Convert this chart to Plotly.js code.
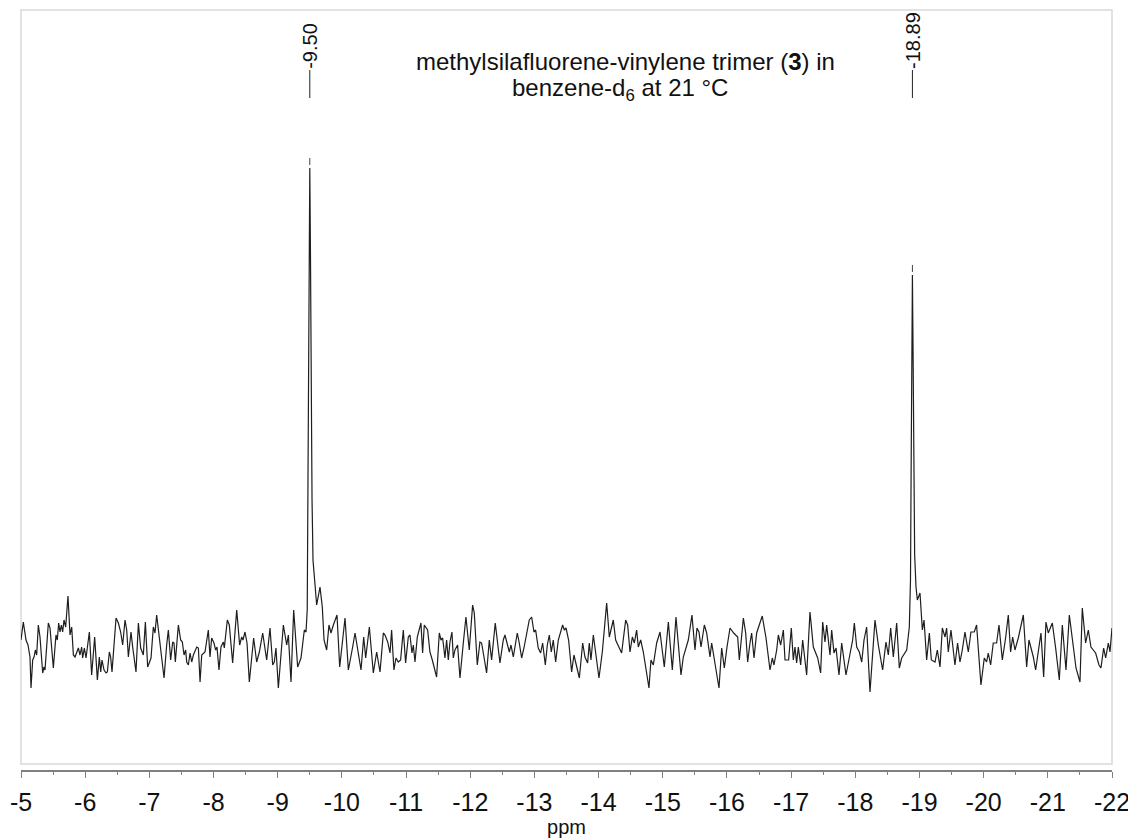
<!DOCTYPE html>
<html>
<head>
<meta charset="utf-8">
<script src="https://cdn.plot.ly/plotly-3.0.1.min.js"></script>
<style>html,body{margin:0;padding:0;background:#fff;}#chart{width:1128px;height:838px;}</style>
</head>
<body>
<div id="chart"></div>
<script>
// chemical shift (ppm) of the spectrum points
const ppm = [
-5.000,-5.036,-5.078,-5.109,-5.140,-5.156,-5.182,-5.203,-5.223,-5.244,-5.270,-5.296,-5.338,-5.358,-5.374,-5.426,-5.452,-5.504,-5.545,-5.566,
-5.587,-5.608,-5.629,-5.649,-5.670,-5.696,-5.732,-5.764,-5.790,-5.816,-5.842,-5.868,-5.894,-5.919,-5.945,-5.961,-5.987,-6.013,-6.034,-6.065,
-6.101,-6.148,-6.190,-6.221,-6.242,-6.262,-6.294,-6.325,-6.345,-6.377,-6.397,-6.418,-6.481,-6.517,-6.553,-6.584,-6.621,-6.647,-6.673,-6.714,
-6.740,-6.792,-6.829,-6.865,-6.906,-6.938,-6.974,-7.026,-7.062,-7.088,-7.114,-7.156,-7.192,-7.229,-7.270,-7.296,-7.332,-7.364,-7.384,-7.405,
-7.452,-7.488,-7.514,-7.540,-7.566,-7.582,-7.608,-7.634,-7.660,-7.686,-7.738,-7.764,-7.790,-7.816,-7.867,-7.919,-7.945,-7.971,-8.007,-8.033,
-8.054,-8.085,-8.116,-8.153,-8.168,-8.215,-8.246,-8.298,-8.361,-8.407,-8.439,-8.459,-8.490,-8.522,-8.558,-8.625,-8.672,-8.714,-8.766,-8.828,
-8.880,-8.922,-8.947,-8.973,-9.010,-9.088,-9.140,-9.166,-9.207,-9.249,-9.311,-9.363,-9.415,-9.441,-9.460,-9.470,-9.480,-9.490,-9.500,-9.510,
-9.520,-9.535,-9.550,
-9.575,-9.607,-9.659,-9.695,-9.722,-9.763,-9.799,-9.830,-9.867,-9.924,-9.966,-10.007,-10.049,-10.101,-10.137,-10.168,-10.205,-10.246,-10.267,-10.298,
-10.340,-10.371,-10.428,-10.490,-10.542,-10.594,-10.646,-10.672,-10.714,-10.750,-10.775,-10.811,-10.843,-10.879,-10.915,-10.957,-10.993,-11.035,-11.061,-11.092,
-11.113,-11.139,-11.175,-11.206,-11.232,-11.258,-11.284,-11.336,-11.372,-11.409,-11.476,-11.518,-11.544,-11.570,-11.606,-11.632,-11.658,-11.684,-11.715,-11.736,
-11.762,-11.803,-11.840,-11.892,-11.933,-11.985,-12.037,-12.063,-12.110,-12.151,-12.177,-12.214,-12.255,-12.297,-12.333,-12.390,-12.422,-12.463,-12.515,-12.541,
-12.609,-12.635,-12.671,-12.702,-12.733,-12.764,-12.801,-12.837,-12.879,-12.920,-12.957,-12.993,-13.019,-13.060,-13.097,-13.128,-13.170,-13.201,-13.232,-13.263,
-13.294,-13.331,-13.372,-13.440,-13.466,-13.492,-13.533,-13.580,-13.616,-13.700,-13.752,-13.788,-13.829,-13.855,-13.881,-13.918,-14.006,-14.058,-14.126,-14.167,
-14.229,-14.266,-14.359,-14.422,-14.453,-14.489,-14.526,-14.557,-14.593,-14.619,-14.656,-14.697,-14.785,-14.816,-14.853,-14.905,-14.957,-15.024,-15.087,-15.149,
-15.206,-15.284,-15.320,-15.398,-15.455,-15.502,-15.533,-15.564,-15.596,-15.648,-15.684,-15.736,-15.762,-15.840,-15.876,-15.918,-15.959,-16.001,-16.048,-16.105,
-16.167,-16.193,-16.256,-16.292,-16.323,-16.359,-16.385,-16.422,-16.463,-16.550,-16.609,-16.671,-16.707,-16.733,-16.775,-16.801,-16.837,-16.879,-16.905,-16.961,
-17.003,-17.034,-17.060,-17.086,-17.112,-17.149,-17.180,-17.242,-17.294,-17.346,-17.414,-17.460,-17.492,-17.528,-17.554,-17.606,-17.632,-17.668,-17.700,-17.746,
-17.788,-17.855,-17.918,-17.959,-17.985,-18.022,-18.063,-18.100,-18.136,-18.177,-18.229,-18.307,-18.359,-18.426,-18.478,-18.515,-18.551,-18.593,-18.645,-18.686,
-18.723,-18.801,-18.842,-18.860,-18.870,-18.880,-18.890,-18.900,-18.910,-18.925,
-18.946,-18.967,-19.008,-19.045,-19.071,-19.112,-19.154,-19.185,-19.242,-19.278,-19.320,-19.356,
-19.398,-19.423,-19.449,-19.491,-19.553,-19.594,-19.631,-19.667,-19.709,-19.735,-19.761,-19.802,-19.854,-19.890,-19.958,-20.010,-20.046,-20.072,-20.109,-20.150,
-20.202,-20.239,-20.291,-20.342,-20.384,-20.420,-20.452,-20.488,-20.540,-20.618,-20.670,-20.706,-20.774,-20.810,-20.893,-20.935,-20.971,-21.007,-21.044,-21.070,
-21.122,-21.179,-21.226,-21.283,-21.335,-21.387,-21.439,-21.501,-21.537,-21.589,-21.631,-21.672,-21.745,-21.797,-21.828,-21.870,-21.901,-21.943,-21.969,-22.000
];
// signal intensity (arbitrary units) at each ppm value
const intensity = [
10,28,10,5,-7,-38,-10,-7,0,-5,25,13,-23,-17,-20,27,22,-18,15,10,
27,18,25,18,30,23,54,15,23,-5,-7,-2,2,-5,3,-8,2,-8,3,18,
-25,13,-30,-7,-22,-10,-20,-23,-22,-2,-7,-22,32,27,18,5,30,20,-7,18,
3,-22,27,2,-5,28,-17,-8,23,17,35,13,-7,-28,5,20,-10,8,7,-12,
25,10,8,-5,0,-12,-15,-3,-12,-5,3,2,-32,-5,-2,20,-7,12,7,0,
3,-20,3,8,2,30,25,-13,40,5,13,10,18,7,-32,12,-12,-2,17,-10,
22,-15,-12,2,-38,25,5,15,-32,40,-17,-8,20,18,40,150,300,420,482,400,
280,150,90,
70,45,63,43,10,0,25,17,25,35,-17,10,32,-20,-5,3,17,2,-8,-20,
13,-8,23,-23,-2,-22,17,15,8,-3,20,-20,-8,-12,-10,20,-13,13,15,-3,
5,-12,13,22,27,-3,25,20,-2,-10,-27,17,10,12,-8,10,-10,8,18,-8,
0,5,-28,7,33,0,45,37,-15,8,7,-7,-23,10,-10,27,8,-13,10,15,
-2,5,-7,5,17,7,-8,2,15,30,33,18,20,2,-3,7,-15,5,15,-2,
10,-12,10,25,20,22,10,-22,-5,-28,7,-7,-13,7,-10,15,-28,-2,47,13,
30,10,-3,30,25,-2,13,7,20,3,10,-2,-38,-10,-15,7,18,-17,28,-20,
33,-25,-7,10,35,0,22,18,3,25,17,-7,7,-25,-38,2,-18,3,22,17,
13,-10,32,17,-12,7,17,-8,17,34,12,-20,-8,-15,0,15,5,20,-10,-10,
22,-10,3,-13,3,-15,10,-25,38,3,-8,-23,28,8,25,-5,20,-3,2,-25,
7,-25,-3,10,27,3,-2,-12,10,23,-42,30,5,-20,8,-5,22,-7,27,-18,
-8,0,23,70,180,300,375,300,180,95,
63,50,57,20,30,-10,17,-10,-12,0,-17,22,
13,22,-2,20,-15,7,-12,0,18,8,-2,18,18,25,-35,-8,-12,-3,-15,7,
7,25,-10,12,35,-2,13,0,12,35,-17,10,-7,-20,17,-27,28,17,23,27,
2,-30,25,-20,35,7,-18,-32,42,7,20,3,-3,-15,-18,2,-8,7,-2,22
];
// picked peaks
const peakPpm = [-9.50, -18.89];
const peakHeight = [482, 375];
// axis ticks
const tickVals = [-5,-6,-7,-8,-9,-10,-11,-12,-13,-14,-15,-16,-17,-18,-19,-20,-21,-22];
const tickText = ['-5','-6','-7','-8','-9','-10','-11','-12','-13','-14','-15','-16','-17','-18','-19','-20','-21','-22'];
const titleLines = ['methylsilafluorene-vinylene trimer (<b>3</b>) in', 'benzene-d<sub>6</sub> at 21 °C'];

const axisGray = '#808080';
const trace = {
  x: ppm, y: intensity, type: 'scatter', mode: 'lines',
  line: {color: '#1e1e1e', width: 1.2}, hoverinfo: 'skip', showlegend: false
};

const shapes = [
  {type: 'rect', xref: 'x domain', yref: 'y domain', x0: 0, x1: 1, y0: 0, y1: 1,
   line: {color: '#d9d9d9', width: 1.5}, layer: 'below'}
];
const annotations = [];
peakPpm.forEach((p, i) => {
  shapes.push({type: 'line', xref: 'x', yref: 'paper', x0: p, x1: p, y0: (770-98)/760, y1: (770-70)/760,
               line: {color: '#222', width: 1}});
  shapes.push({type: 'line', xref: 'x', yref: 'y', x0: p, x1: p, y0: peakHeight[i] + 3, y1: peakHeight[i] + 10,
               line: {color: '#444', width: 1}});
  annotations.push({text: p.toFixed(2), x: p, xref: 'x', yref: 'paper', y: (770-70)/760,
                    yanchor: 'bottom', xanchor: 'center', textangle: -90, showarrow: false,
                    font: {family: 'Liberation Sans, Arial, sans-serif', size: 20, color: '#111'}, borderpad: 0});
});
annotations.push({text: titleLines[0], xref: 'paper', yref: 'paper', x: (625-21)/1091, y: (770-61)/760,
                  xanchor: 'center', yanchor: 'middle', showarrow: false,
                  font: {family: 'Liberation Sans, Arial, sans-serif', size: 24, color: '#111'}});
annotations.push({text: titleLines[1], xref: 'paper', yref: 'paper', x: (620-21)/1091, y: (770-89)/760,
                  xanchor: 'center', yanchor: 'middle', showarrow: false,
                  font: {family: 'Liberation Sans, Arial, sans-serif', size: 24, color: '#111'}});

const layout = {
  width: 1128, height: 838,
  margin: {l: 21, r: 16, t: 10, b: 68},
  paper_bgcolor: '#fff', plot_bgcolor: '#fff',
  showlegend: false,
  xaxis: {
    range: [-5, -22], tickmode: 'array', tickvals: tickVals, ticktext: tickText,
    ticks: 'outside', ticklen: 6, tickwidth: 1, tickcolor: axisGray,
    showline: true, linecolor: axisGray, linewidth: 1.5,
    showgrid: false, zeroline: false, anchor: 'free', position: 0,
    ticklabeloverflow: 'allow', ticklabelstandoff: 3,
    minor: {tickmode: 'linear', tick0: -5, dtick: 0.5, ticks: 'outside', ticklen: 3, tickcolor: axisGray, showgrid: false},
    tickfont: {family: 'Liberation Sans, Arial, sans-serif', size: 25, color: '#111'},
    title: {text: 'ppm', font: {family: 'Liberation Sans, Arial, sans-serif', size: 20, color: '#111'}, standoff: 3}
  },
  yaxis: {domain: [6/760, 1], range: [-114, 640], visible: false, showgrid: false, zeroline: false},
  shapes: shapes,
  annotations: annotations
};

Plotly.newPlot('chart', [trace], layout, {displayModeBar: false, staticPlot: true});
</script>
</body>
</html>
